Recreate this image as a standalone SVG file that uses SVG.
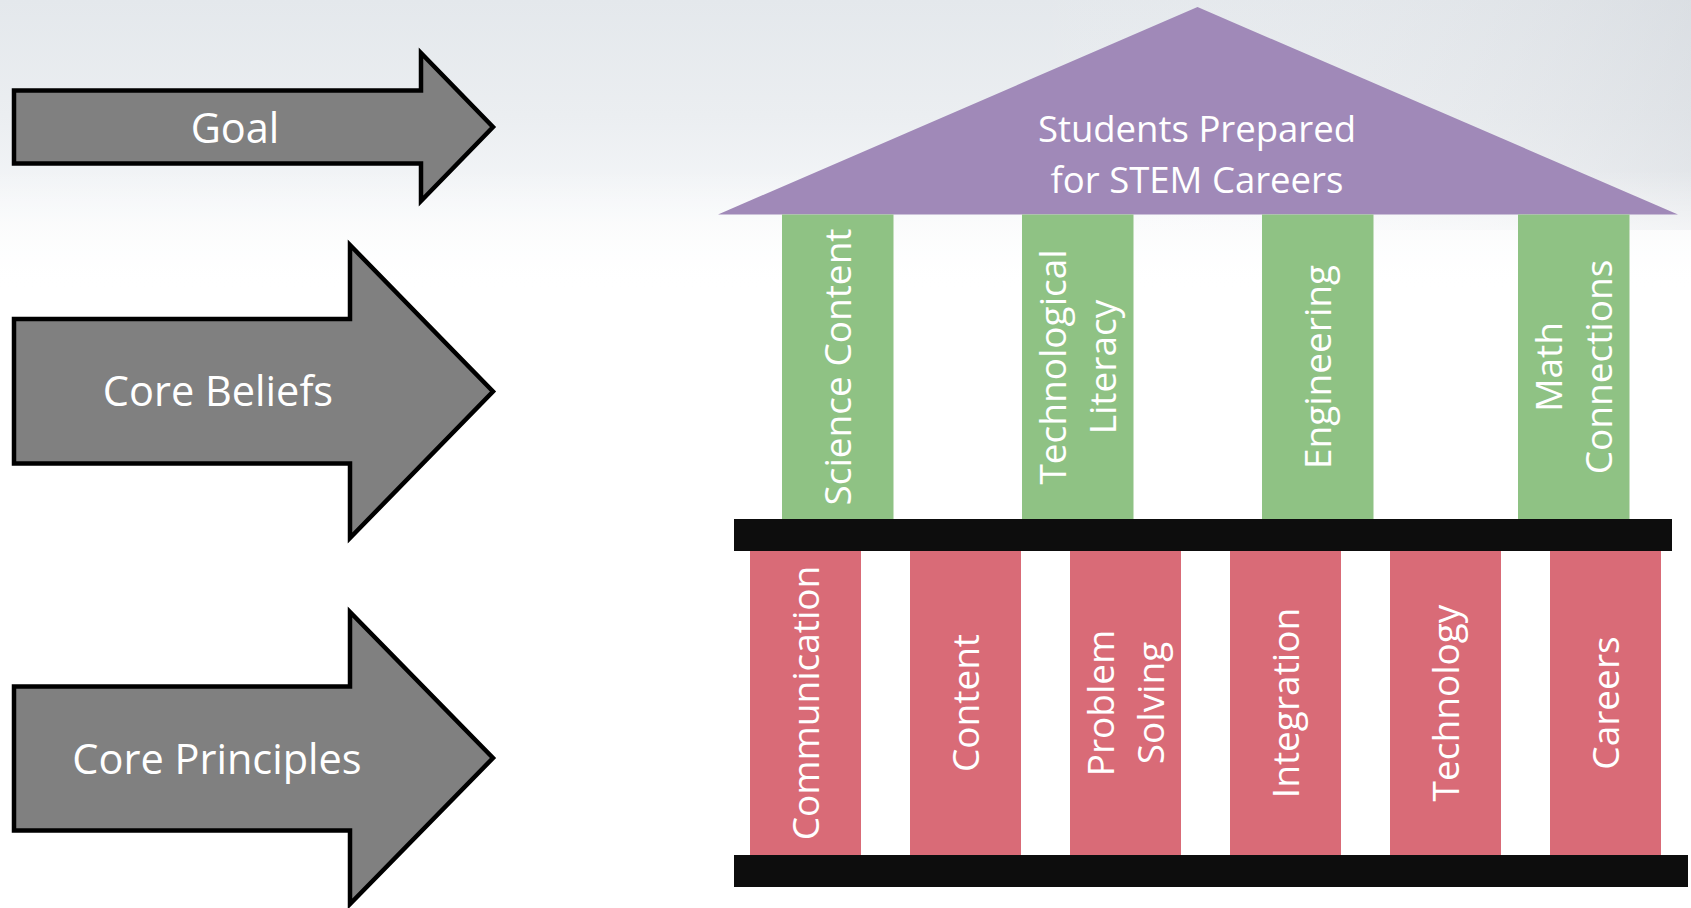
<svg xmlns="http://www.w3.org/2000/svg" width="1691" height="908" viewBox="0 0 1691 908">
  <defs>
    <linearGradient id="sky" x1="0" y1="0" x2="0" y2="1">
      <stop offset="0" stop-color="#e4e8ec"/>
      <stop offset="0.4" stop-color="#ebeef1"/>
      <stop offset="0.7" stop-color="#f4f6f8"/>
      <stop offset="1" stop-color="#ffffff"/>
    </linearGradient>
    <linearGradient id="skyTone" x1="0" y1="0" x2="1" y2="0">
      <stop offset="0" stop-color="#ffffff" stop-opacity="0"/>
      <stop offset="0.6" stop-color="#ffffff" stop-opacity="0"/>
      <stop offset="1" stop-color="#c9cdd3" stop-opacity="0.35"/>
    </linearGradient>
    <linearGradient id="skyFade" x1="0" y1="0" x2="0" y2="1">
      <stop offset="0" stop-color="#ffffff" stop-opacity="0"/>
      <stop offset="1" stop-color="#ffffff" stop-opacity="1"/>
    </linearGradient>
  </defs>
  <style>
    .arrow { fill: #808080; stroke: #000000; stroke-width: 4.5; stroke-linejoin: miter; }
    .lbl { font-family: "Open Sans", "Liberation Sans", sans-serif; fill: #ffffff; }
    .arrow-lbl { font-size: 41.5px; text-anchor: middle; }
    .roof-lbl { font-size: 36.5px; text-anchor: middle; }
    .col-lbl { font-size: 37px; text-anchor: middle; }
    .belief { fill: #8fc284; }
    .principle { fill: #d96b77; }
    .roof { fill: #a089b8; }
    .beam { fill: #0d0d0d; }
  </style>

  <!-- page background with a hazy sky band along the top -->
  <rect x="0" y="0" width="1691" height="908" fill="#ffffff"/>
  <rect x="0" y="0" width="1691" height="290" fill="url(#sky)"/>
  <rect x="0" y="0" width="1691" height="230" fill="url(#skyTone)"/>
  <rect x="0" y="170" width="1691" height="120" fill="url(#skyFade)"/>

  <!-- left-hand arrows -->
  <g id="arrow-goal">
    <path class="arrow" d="M14,90.5 H421 V53 L493,127 L421,201 V163.5 H14 Z"/>
    <text class="lbl arrow-lbl" x="235" y="143">Goal</text>
  </g>
  <g id="arrow-core-beliefs">
    <path class="arrow" d="M14,319 H350 V245 L493,391.5 L350,538 V463.5 H14 Z"/>
    <text class="lbl arrow-lbl" x="218" y="406">Core Beliefs</text>
  </g>
  <g id="arrow-core-principles">
    <path class="arrow" d="M14,686.5 H350 V612 L493,758 L350,904 V830.5 H14 Z"/>
    <text class="lbl arrow-lbl" x="217" y="774">Core Principles</text>
  </g>

  <!-- roof -->
  <g id="roof">
    <polygon class="roof" points="718,214.5 1197.5,7 1678,214.5"/>
    <text class="lbl roof-lbl" x="1197" y="142">Students Prepared</text>
    <text class="lbl roof-lbl" x="1197" y="193">for STEM Careers</text>
  </g>

  <!-- upper columns: core beliefs -->
  <g id="col-science-content">
    <rect class="belief" x="782" y="214.5" width="111.5" height="305"/>
    <text class="lbl col-lbl" transform="translate(851,367) rotate(-90)">Science Content</text>
  </g>
  <g id="col-technological-literacy">
    <rect class="belief" x="1022" y="214.5" width="111.5" height="305"/>
    <text class="lbl col-lbl" transform="translate(1065.5,367) rotate(-90)">Technological</text>
    <text class="lbl col-lbl" transform="translate(1115.5,367) rotate(-90)">Literacy</text>
  </g>
  <g id="col-engineering">
    <rect class="belief" x="1262" y="214.5" width="111.5" height="305"/>
    <text class="lbl col-lbl" transform="translate(1331,367) rotate(-90)">Engineering</text>
  </g>
  <g id="col-math-connections">
    <rect class="belief" x="1518" y="214.5" width="111.5" height="305"/>
    <text class="lbl col-lbl" transform="translate(1561.5,367) rotate(-90)">Math</text>
    <text class="lbl col-lbl" transform="translate(1611.5,367) rotate(-90)">Connections</text>
  </g>

  <!-- middle beam -->
  <g id="beam-upper">
    <rect class="beam" x="734" y="519" width="938" height="32"/>
  </g>

  <!-- lower columns: core principles -->
  <g id="col-communication">
    <rect class="principle" x="750" y="551" width="111" height="304"/>
    <text class="lbl col-lbl" transform="translate(819,703) rotate(-90)">Communication</text>
  </g>
  <g id="col-content">
    <rect class="principle" x="910" y="551" width="111" height="304"/>
    <text class="lbl col-lbl" transform="translate(979,703) rotate(-90)">Content</text>
  </g>
  <g id="col-problem-solving">
    <rect class="principle" x="1070" y="551" width="111" height="304"/>
    <text class="lbl col-lbl" transform="translate(1113.5,703) rotate(-90)">Problem</text>
    <text class="lbl col-lbl" transform="translate(1163.5,703) rotate(-90)">Solving</text>
  </g>
  <g id="col-integration">
    <rect class="principle" x="1230" y="551" width="111" height="304"/>
    <text class="lbl col-lbl" transform="translate(1299,703) rotate(-90)">Integration</text>
  </g>
  <g id="col-technology">
    <rect class="principle" x="1390" y="551" width="111" height="304"/>
    <text class="lbl col-lbl" transform="translate(1459,703) rotate(-90)">Technology</text>
  </g>
  <g id="col-careers">
    <rect class="principle" x="1550" y="551" width="111" height="304"/>
    <text class="lbl col-lbl" transform="translate(1619,703) rotate(-90)">Careers</text>
  </g>

  <!-- base beam -->
  <g id="beam-base">
    <rect class="beam" x="734" y="855" width="954" height="32"/>
  </g>

  <!-- no connectors between the blocks -->
  <g id="connectors"/>
</svg>
